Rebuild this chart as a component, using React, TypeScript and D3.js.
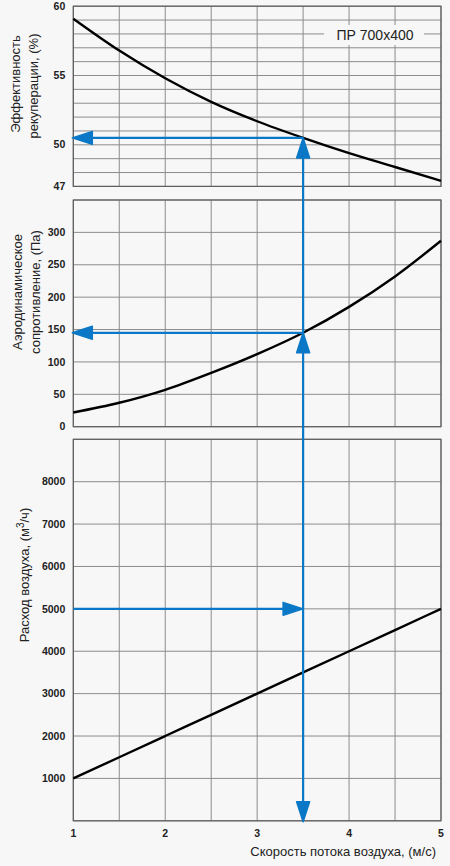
import React from 'react';
import * as d3 from 'd3';

// скорость потока воздуха, м/с
const velocity = [1, 1.5, 2, 2.5, 3, 3.5, 4, 4.5, 5];
// эффективность рекуперации, %
const efficiency = [59.1, 56.8, 54.8, 53.1, 51.7, 50.5, 49.4, 48.4, 47.4];
// аэродинамическое сопротивление, Па
const pressure = [22, 37, 57, 83, 112, 145, 185, 232, 287];
// расход воздуха, м3/ч
const airflow = [1000, 1500, 2000, 2500, 3000, 3500, 4000, 4500, 5000];

const xTicks = [1, 2, 3, 4, 5];
const effTicks = [47, 50, 55, 60];
const presTicks = [0, 50, 100, 150, 200, 250, 300];
const flowTicks = [1000, 2000, 3000, 4000, 5000, 6000, 7000, 8000];

// рабочая точка
const workVelocity = 3.5;
const workEfficiency = 50.5;
const workPressure = 145;
const workFlow = 5000;

const modelName = 'ПР 700x400';

const W = 450;
const H = 866;
const left = 73.3;
const right = 441;
const font = '"Liberation Sans", Arial, sans-serif';
const blue = '#0a78c6';
const gridColor = '#8c8c8c';
const borderColor = '#5e5e5e';

function Arrow({ x, y, dir }: { x: number; y: number; dir: 'up' | 'down' | 'left' | 'right' }) {
  const len = 20;
  const half = 6.5;
  let pts: [number, number][] = [];
  if (dir === 'up') pts = [[x, y], [x - half, y + len], [x + half, y + len]];
  if (dir === 'down') pts = [[x, y], [x - half, y - len], [x + half, y - len]];
  if (dir === 'left') pts = [[x, y], [x + len, y - half], [x + len, y + half]];
  if (dir === 'right') pts = [[x, y], [x - len, y - half], [x - len, y + half]];
  return (
    <polygon
      points={pts.map((p) => p.join(',')).join(' ')}
      fill={blue}
      stroke={blue}
      strokeWidth={1.5}
      strokeLinejoin="round"
    />
  );
}

function Panel({
  y,
  values,
  gridStep,
  ticks,
  top,
  bottom,
}: {
  y: d3.ScaleLinear<number, number>;
  values: number[];
  gridStep: number;
  ticks: number[];
  top: number;
  bottom: number;
}) {
  const x = d3.scaleLinear().domain([1, 5]).range([left, right]);
  const [d0, d1] = y.domain();
  const hLines = d3.range(d0, d1 + gridStep / 2, gridStep);
  const vLines = d3.range(1, 5.01, 0.5);
  const line = d3
    .line<number>()
    .x((_, i) => x(velocity[i]))
    .y((d) => y(d))
    .curve(d3.curveMonotoneX);

  return (
    <g>
      {hLines.map((v) => (
        <line key={'h' + v} x1={left} x2={right} y1={y(v)} y2={y(v)} stroke={gridColor} strokeWidth={1} />
      ))}
      {vLines.map((v) => (
        <line key={'v' + v} x1={x(v)} x2={x(v)} y1={top} y2={bottom} stroke={gridColor} strokeWidth={1} />
      ))}
      <rect x={left} y={top} width={right - left} height={bottom - top} fill="none" stroke={borderColor} strokeWidth={1.2} />
      {ticks.map((t) => (
        <text
          key={'t' + t}
          x={left - 8}
          y={y(t)}
          dy="0.35em"
          textAnchor="end"
          fontSize={10.5}
          fontWeight="bold"
          fill="#222"
        >
          {t}
        </text>
      ))}
      <path d={line(values) || ''} fill="none" stroke="#000" strokeWidth={2.4} />
    </g>
  );
}

export default function App() {
  const x = d3.scaleLinear().domain([1, 5]).range([left, right]);
  const yEff = d3.scaleLinear().domain([47, 60]).range([186.4, 6.2]);
  const yPres = d3.scaleLinear().domain([0, 350]).range([426.7, 200]);
  const yFlow = d3.scaleLinear().domain([0, 9000]).range([820.8, 439.3]);

  const wx = x(workVelocity);
  const effY = yEff(workEfficiency);
  const presY = yPres(workPressure);
  const flowY = yFlow(workFlow);
  const bottom = yFlow(0);

  return (
    <div style={{ position: 'absolute', left: 0, top: 0 }}>
      <svg width={W} height={H} style={{ display: 'block', fontFamily: font }}>
        <rect x={0} y={0} width={W} height={H} fill="#f7f7f7" />

        <Panel y={yEff} values={efficiency} gridStep={1} ticks={effTicks} top={6.2} bottom={186.4} />
        <Panel y={yPres} values={pressure} gridStep={50} ticks={presTicks} top={200} bottom={426.7} />
        <Panel y={yFlow} values={airflow} gridStep={1000} ticks={flowTicks} top={439.3} bottom={820.8} />

        {/* подпись модели */}
        <rect x={324} y={25} width={100} height={20} fill="#f7f7f7" />
        <text x={375} y={35.5} dy="0.35em" textAnchor="middle" fontSize={14} fill="#222">
          {modelName}
        </text>

        {/* рабочая точка */}
        <line x1={wx} x2={wx} y1={effY} y2={bottom - 4} stroke={blue} strokeWidth={2.2} />
        <line x1={x(1) + 6} x2={wx} y1={effY} y2={effY} stroke={blue} strokeWidth={2.2} />
        <line x1={x(1) + 6} x2={wx} y1={presY} y2={presY} stroke={blue} strokeWidth={2.2} />
        <line x1={x(1)} x2={wx - 6} y1={flowY} y2={flowY} stroke={blue} strokeWidth={2.2} />
        <Arrow x={wx} y={effY} dir="up" />
        <Arrow x={wx} y={presY} dir="up" />
        <Arrow x={wx} y={bottom + 1} dir="down" />
        <Arrow x={x(1) - 1} y={effY} dir="left" />
        <Arrow x={x(1) - 1} y={presY} dir="left" />
        <Arrow x={wx} y={flowY} dir="right" />

        {/* ось X */}
        {xTicks.map((t) => (
          <text key={t} x={x(t)} y={833} dy="0.35em" textAnchor="middle" fontSize={10.5} fontWeight="bold" fill="#222">
            {t}
          </text>
        ))}
        <text x={436} y={856} textAnchor="end" fontSize={13} fill="#222">
          Скорость потока воздуха, (м/с)
        </text>

        {/* подписи осей Y */}
        <text transform="translate(20,84) rotate(-90)" textAnchor="middle" fontSize={13} fill="#222">
          Эффективность
        </text>
        <text transform="translate(38,86) rotate(-90)" textAnchor="middle" fontSize={13} fill="#222">
          рекуперации, (%)
        </text>
        <text transform="translate(22,292) rotate(-90)" textAnchor="middle" fontSize={13} fill="#222">
          Аэродинамическое
        </text>
        <text transform="translate(40,292) rotate(-90)" textAnchor="middle" fontSize={13} fill="#222">
          сопротивление, (Па)
        </text>
        <text transform="translate(29,575) rotate(-90)" textAnchor="middle" fontSize={13} fill="#222">
          Расход воздуха, (м
          <tspan fontSize={10} dy={-5}>3</tspan>
          <tspan dy={5}>/ч)</tspan>
        </text>
      </svg>
    </div>
  );
}
